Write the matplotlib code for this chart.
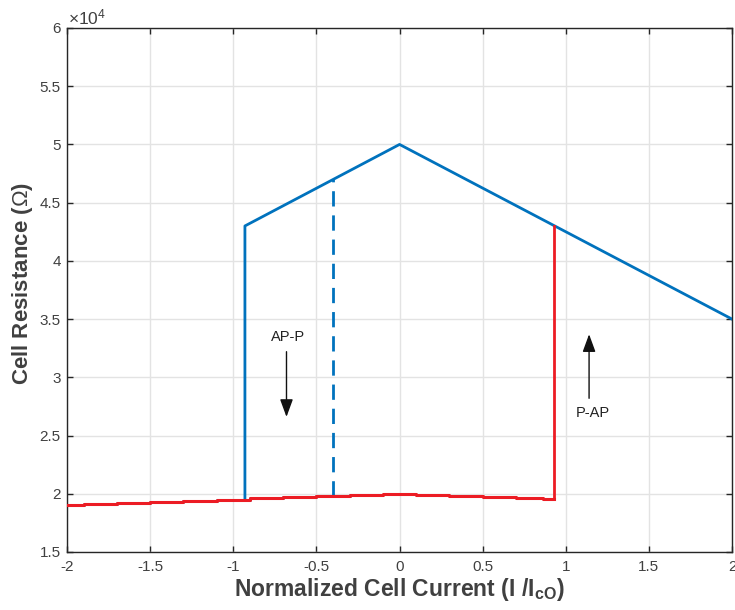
import matplotlib
matplotlib.use("Agg")
import matplotlib.pyplot as plt
from matplotlib.ticker import FuncFormatter

plt.rcParams['font.family'] = ['Liberation Sans', 'DejaVu Sans']
plt.rcParams['mathtext.fontset'] = 'custom'
plt.rcParams['mathtext.rm'] = 'Liberation Sans'
plt.rcParams['mathtext.it'] = 'Liberation Sans:italic'
plt.rcParams['mathtext.bf'] = 'Liberation Sans:bold'

# ---- data (resistance in ohms) ----
# AP state (blue): sweep from switching point through peak to +2
blue_x = [-0.93, -0.93, 0.0, 2.0]
blue_y = [19500, 43000, 50000, 35000]
# dashed blue marker
dash_x = [-0.40, -0.40]
dash_y = [19800, 47000]
# P state (red), stepped samples
red_x = [-2.0, -1.8, -1.6, -1.4, -1.2, -1.0, -0.8, -0.6, -0.4, -0.2, 0.0,
         0.2, 0.4, 0.6, 0.8, 0.93]
red_y = [19000, 19100, 19200, 19300, 19400, 19500, 19600, 19700, 19800, 19900, 20000,
         19900, 19800, 19700, 19600, 19550]
# red switching vertical
red_sw_x = [0.93, 0.93]
red_sw_y = [19550, 43000]

xticks = [-2, -1.5, -1, -0.5, 0, 0.5, 1, 1.5, 2]
yticks = [15000, 20000, 25000, 30000, 35000, 40000, 45000, 50000, 55000, 60000]

BLUE = '#0072BD'
RED = '#EC1C24'
AXC = '#262626'
TXT = '#404040'

fig = plt.figure(figsize=(7.35, 6.10), dpi=100)
ax = fig.add_axes([0.0912, 0.0951, 0.9048, 0.8590])

ax.plot(red_x[:10], red_y[:10], color=BLUE, lw=2.0, drawstyle='steps-mid', zorder=2)
ax.plot(blue_x, blue_y, color=BLUE, lw=2.0, zorder=3)
ax.plot(dash_x, dash_y, color=BLUE, lw=2.0, ls=(0, (5.5, 3.2)), zorder=3)
ax.plot(red_x, red_y, color=RED, lw=2.2, drawstyle='steps-mid', zorder=4)
ax.plot(red_sw_x, red_sw_y, color=RED, lw=2.0, zorder=4)

astyle = '-|>,head_length=0.6,head_width=0.22'
ax.annotate('', xy=(-0.68, 26600), xytext=(-0.68, 32200),
            arrowprops=dict(arrowstyle=astyle, color='#111111', lw=1.0, mutation_scale=18,
                            shrinkA=0, shrinkB=0))
ax.text(-0.67, 33500, 'AP-P', ha='center', va='center', fontsize=10.5, color='#222222')
ax.annotate('', xy=(1.14, 33700), xytext=(1.14, 28200),
            arrowprops=dict(arrowstyle=astyle, color='#111111', lw=1.0, mutation_scale=18,
                            shrinkA=0, shrinkB=0))
ax.text(1.16, 26900, 'P-AP', ha='center', va='center', fontsize=10.5, color='#222222')

ax.set_xlim(-2, 2)
ax.set_ylim(15000, 60000)
ax.set_xticks(xticks)
ax.set_yticks(yticks)
ax.xaxis.set_major_formatter(FuncFormatter(lambda v, p: '%g' % v))
ax.yaxis.set_major_formatter(FuncFormatter(lambda v, p: '%g' % (v / 1e4)))

ax.grid(True, color='#e3e3e3', lw=1.0, zorder=0)
ax.set_axisbelow(True)
for s in ax.spines.values():
    s.set_color(AXC)
    s.set_linewidth(1.0)
ax.tick_params(direction='in', length=4.5, width=1, color=AXC, labelcolor=TXT,
               labelsize=11, top=True, right=True)
ax.tick_params(axis='y', pad=4.5)
ax.tick_params(axis='x', pad=5.5)

ax.text(0.002, 1.002, r'$\times10^{4}$', transform=ax.transAxes, ha='left', va='bottom',
        fontsize=12.5, color=TXT)

ax.set_xlabel(r'Normalized Cell Current (I /I$_{\mathbf{cO}}$)', fontsize=16.5,
              fontweight='bold', color=TXT)
ax.xaxis.set_label_coords(0.5, -0.045)
ax.set_ylabel(r'Cell Resistance ($\Omega$)', fontsize=16, fontweight='bold', color=TXT)
ax.yaxis.set_label_coords(-0.048, 0.512)

fig.savefig('out.png', dpi=100)
